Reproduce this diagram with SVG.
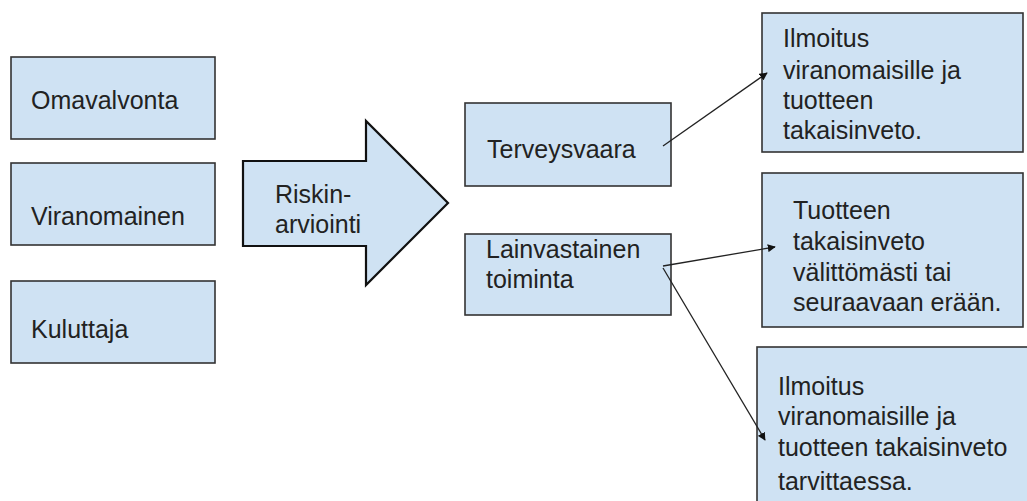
<svg xmlns="http://www.w3.org/2000/svg" width="1027" height="501" viewBox="0 0 1027 501">
<style>
.box{fill:#cfe2f3;stroke:#333;stroke-width:1.6}
.t{font-family:"Liberation Sans",Arial,sans-serif;font-size:25px;fill:#222}
.c{stroke:#222;stroke-width:1.3;fill:none}
</style>
<defs>
<marker id="ah" viewBox="0 0 10 10" refX="9" refY="5" markerWidth="8" markerHeight="8" markerUnits="userSpaceOnUse" orient="auto">
<path d="M0,0 L10,5 L0,10 z" fill="#111"/>
</marker>
</defs>
<rect width="1027" height="501" fill="#fff"/>
<g id="omavalvonta"><rect class="box" x="11" y="57" width="204" height="82"/><text class="t" x="31" y="109">Omavalvonta</text></g>
<g id="viranomainen"><rect class="box" x="11" y="163" width="204" height="82"/><text class="t" x="31" y="225">Viranomainen</text></g>
<g id="kuluttaja"><rect class="box" x="11" y="281" width="204" height="82"/><text class="t" x="31" y="338">Kuluttaja</text></g>
<g id="riskinarviointi"><polygon points="243,161 366,161 366,121 448,203 366,285 366,246 243,246" fill="#cfe2f3" stroke="#111" stroke-width="2.2" stroke-linejoin="miter"/><text class="t" x="275" y="203">Riskin-</text><text class="t" x="275" y="233">arviointi</text></g>
<g id="terveysvaara"><rect class="box" x="465" y="103" width="206" height="83"/><text class="t" x="487" y="158">Terveysvaara</text></g>
<g id="lainvastainen"><rect class="box" x="465" y="234" width="206" height="81"/><text class="t" x="486" y="258">Lainvastainen</text><text class="t" x="486" y="288">toiminta</text></g>
<g id="ilmoitus1"><rect class="box" x="762" y="13" width="261" height="139"/><text class="t" x="783" y="47">Ilmoitus</text><text class="t" x="783" y="79">viranomaisille ja</text><text class="t" x="783" y="109">tuotteen</text><text class="t" x="783" y="139">takaisinveto.</text></g>
<g id="tuotteen"><rect class="box" x="762" y="173" width="261" height="154"/><text class="t" x="793" y="219">Tuotteen</text><text class="t" x="793" y="250">takaisinveto</text><text class="t" x="793" y="281">välittömästi tai</text><text class="t" x="793" y="311">seuraavaan erään.</text></g>
<g id="ilmoitus2"><rect class="box" x="757" y="347" width="275" height="160"/><text class="t" x="778" y="395">Ilmoitus</text><text class="t" x="778" y="425">viranomaisille ja</text><text class="t" x="778" y="456">tuotteen takaisinveto</text><text class="t" x="778" y="490">tarvittaessa.</text></g>
<g id="connectors">
<line class="c" x1="663" y1="146" x2="767" y2="73" marker-end="url(#ah)"/>
<line class="c" x1="663" y1="266" x2="775" y2="247" marker-end="url(#ah)"/>
<line class="c" x1="663" y1="268" x2="765" y2="440" marker-end="url(#ah)"/>
</g>
</svg>
